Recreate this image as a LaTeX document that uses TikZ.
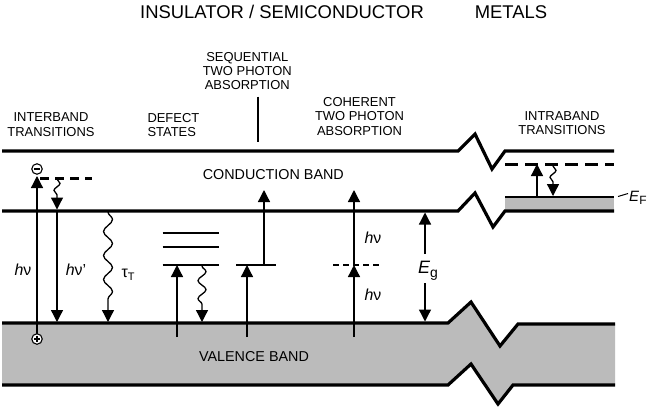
\documentclass[tikz,border=0pt]{standalone}
\usepackage{fontspec}
\setmainfont{Liberation Sans}
\usetikzlibrary{arrows.meta,decorations.pathmorphing}
\definecolor{bandgray}{RGB}{187,187,187}
\tikzset{
  bandline/.style={line width=3.2bp, line join=miter, line cap=butt},
  thinlevel/.style={line width=1.8bp},
  arr/.style={line width=1.3bp, -{Triangle[width=12bp,length=12bp]}},
  wavyarr/.style={line width=1.3bp, -{Triangle[width=12bp,length=12bp]},
     decorate, decoration={snake, amplitude=#1, segment length=18bp, pre length=1bp, post length=12bp}},
  wavyarr/.default=4bp,
  small/.style={font=\fontsize{13}{14.3}\selectfont, align=center, inner sep=0pt},
  title/.style={font=\fontsize{18.5}{20}\selectfont, inner sep=0pt},
  bandtxt/.style={font=\fontsize{14.4}{16}\selectfont, inner sep=0pt},
  mathtxt/.style={font=\fontsize{16}{18}\selectfont, inner sep=0pt},
  charge/.style={circle, draw, line width=1.1bp, minimum size=10.5bp, inner sep=0pt, fill=white}
}
\begin{document}
\begin{tikzpicture}[x=1bp,y=-1bp]
\path[use as bounding box] (0,0) rectangle (650,407);

% ---- valence band (gray, with breaks)
\fill[bandgray] (2,323) -- (448,323) -- (471,302) -- (500,346) -- (518,324) -- (615,324)
   -- (615,385) -- (513,385) -- (498,404) -- (471,364) -- (448,385) -- (2,385) -- cycle;
\draw[bandline] (2,323) -- (448,323) -- (471,302) -- (500,346) -- (518,324) -- (615,324);
\draw[bandline] (2,385) -- (448,385) -- (471,364) -- (498,404) -- (513,385) -- (615,385);

% ---- conduction band lines
\draw[bandline] (2,151) -- (458,151) -- (475,134) -- (492,169) -- (505,151) -- (614,151);
% metal filled part
\fill[bandgray] (505,197) rectangle (614,211);
\draw[line width=2.3bp] (505,197) -- (614,197);
\draw[bandline] (2,211) -- (458,211) -- (475,193) -- (493,227) -- (505,211) -- (614,211);
\draw[line width=3bp, dash pattern=on 13bp off 7bp] (505,164) -- (614,164);

% ---- coordinates
\coordinate (ivb) at (37,333.5);
\coordinate (itop) at (37,176);
\coordinate (pa) at (57,178);
\coordinate (pb) at (57,209.5);
\coordinate (pc) at (57,211);
\coordinate (pd) at (57,322);
\coordinate (ta) at (108,211);
\coordinate (tb) at (108,322);
\coordinate (da) at (177,337);
\coordinate (db) at (177,265);
\coordinate (dw1) at (202,265);
\coordinate (dw2) at (202,322);
\coordinate (sa) at (247,337);
\coordinate (sb) at (247,265);
\coordinate (sc) at (264,265);
\coordinate (sd) at (264,190);
\coordinate (ca) at (354,337);
\coordinate (cb) at (354,265);
\coordinate (cc) at (354,190);
\coordinate (ga) at (425,254);
\coordinate (gb) at (425,212.5);
\coordinate (gc) at (425,283);
\coordinate (gd) at (425,321.5);
\coordinate (ma) at (537,197);
\coordinate (mb) at (537,164);
\coordinate (mw1) at (553,165);
\coordinate (mw2) at (553,196);

% ---- interband transitions
\draw[line width=3bp, dash pattern=on 9bp off 6bp] (40,178) -- (92,178);
\node[charge] (minus) at (37,169) {};
\draw[line width=1.1bp] ([xshift=-2.8bp]minus.center) -- ([xshift=2.8bp]minus.center);
\draw[arr] (ivb) -- (itop);
\node[charge] (plus) at (37,339) {};
\draw[line width=1.1bp] ([xshift=-2.8bp]plus.center) -- ([xshift=2.8bp]plus.center)
      ([yshift=-2.8bp]plus.center) -- ([yshift=2.8bp]plus.center);
\draw[wavyarr=3bp, decoration={segment length=14bp}] (pa) -- (pb);
\draw[arr] (pc) -- (pd);
\draw[wavyarr=4.5bp, decoration={segment length=24bp}] (ta) -- (tb);

% ---- defect states
\draw[thinlevel] (162.7,233) -- (219.3,233);
\draw[thinlevel] (162.7,247) -- (219.3,247);
\draw[thinlevel] (162.7,265) -- (219.3,265);
\draw[arr] (da) -- (db);
\draw[wavyarr=4bp, decoration={segment length=18bp}] (dw1) -- (dw2);

% ---- sequential two photon absorption
\draw[thinlevel] (236,265) -- (276,265);
\draw[arr] (sa) -- (sb);
\draw[arr] (sc) -- (sd);
\draw[line width=1.8bp] (257.7,96.5) -- (257.7,142);

% ---- coherent two photon absorption
\draw[line width=1.5bp, dash pattern=on 6bp off 4bp] (333,265) -- (383,265);
\draw[arr] (ca) -- (cb);
\draw[arr] (cb) -- (cc);

% ---- band gap
\draw[arr] (ga) -- (gb);
\draw[arr] (gc) -- (gd);

% ---- metals
\draw[arr] (ma) -- (mb);
\draw[wavyarr=3bp, decoration={segment length=14bp}] (mw1) -- (mw2);
\draw[line width=1bp] (618,196.5) -- (628,193.5);

% ---- texts
\node[title] (t1) at (282,12) {INSULATOR / SEMICONDUCTOR};
\node[title] (t2) at (511,12) {METALS};
\node[small] (l1) at (51,124.7) {INTERBAND\\TRANSITIONS};
\node[small, anchor=west, align=left] (l2) at (147.3,125) {DEFECT\\STATES};
\node[small] (l3) at (247.3,71) {SEQUENTIAL\\TWO PHOTON\\ABSORPTION};
\node[small] (l4) at (359.5,116.3) {COHERENT\\TWO PHOTON\\ABSORPTION};
\node[small] (l5) at (562,123.3) {INTRABAND\\TRANSITIONS};
\node[bandtxt] (cbt) at (273.3,175) {CONDUCTION BAND};
\node[bandtxt] (vbt) at (254,357) {VALENCE BAND};

\node[mathtxt] (h1) at (23,270) {\textit{h}ν};
\node[mathtxt] (h2) at (76,270) {\textit{h}ν'};
\node[mathtxt] (tau) at (128,275) {τ\raisebox{-3bp}{\fontsize{11}{11}\selectfont T}};
\node[mathtxt] (h3) at (373,238) {\textit{h}ν};
\node[mathtxt] (h4) at (373,295) {\textit{h}ν};
\node[inner sep=0pt, font=\fontsize{18}{20}\selectfont] (eg) at (428,271) {\textit{E}\raisebox{-4bp}{\fontsize{14}{14}\selectfont g}};
\node[inner sep=0pt, font=\fontsize{15}{17}\selectfont, anchor=west] (ef) at (629,198) {\textit{E}\raisebox{-3.5bp}{\fontsize{12}{12}\selectfont F}};
\end{tikzpicture}
\end{document}
